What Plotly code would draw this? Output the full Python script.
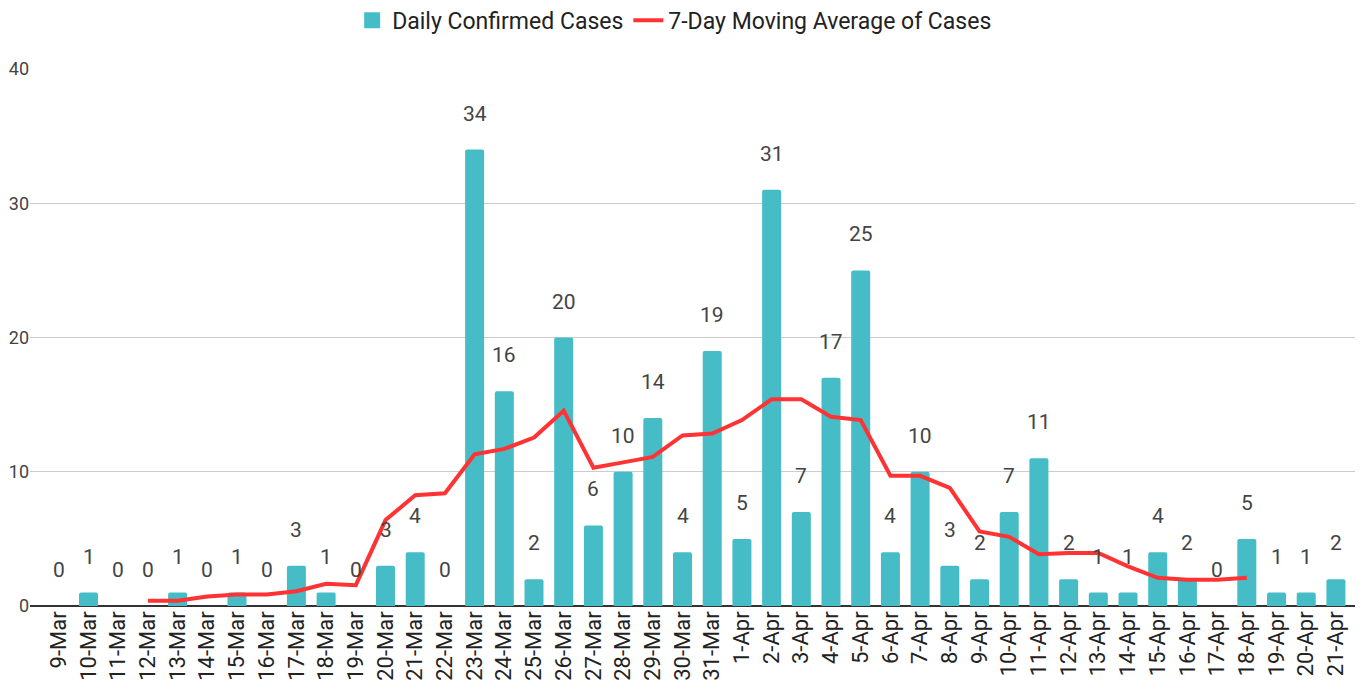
import plotly.graph_objects as go

dates = ["9-Mar", "10-Mar", "11-Mar", "12-Mar", "13-Mar", "14-Mar", "15-Mar", "16-Mar",
         "17-Mar", "18-Mar", "19-Mar", "20-Mar", "21-Mar", "22-Mar", "23-Mar", "24-Mar",
         "25-Mar", "26-Mar", "27-Mar", "28-Mar", "29-Mar", "30-Mar", "31-Mar", "1-Apr",
         "2-Apr", "3-Apr", "4-Apr", "5-Apr", "6-Apr", "7-Apr", "8-Apr", "9-Apr", "10-Apr",
         "11-Apr", "12-Apr", "13-Apr", "14-Apr", "15-Apr", "16-Apr", "17-Apr", "18-Apr",
         "19-Apr", "20-Apr", "21-Apr"]

daily_cases = [0, 1, 0, 0, 1, 0, 1, 0, 3, 1, 0, 3, 4, 0, 34, 16, 2, 20, 6, 10, 14, 4, 19, 5,
               31, 7, 17, 25, 4, 10, 3, 2, 7, 11, 2, 1, 1, 4, 2, 0, 5, 1, 1, 2]

ma_dates = dates[3:41]
ma_values = [0.4, 0.4, 0.7, 0.85, 0.85, 1.1, 1.65, 1.55, 6.4, 8.25, 8.4, 11.3, 11.7, 12.55,
             14.55, 10.3, 10.7, 11.1, 12.7, 12.85, 13.85, 15.4, 15.4, 14.1, 13.85, 9.7, 9.7,
             8.8, 5.55, 5.15, 3.85, 3.95, 3.95, 2.95, 2.1, 1.95, 1.95, 2.1]

y_ticks = [0, 10, 20, 30, 40]

BAR_COLOR = "#46bdc6"
LINE_COLOR = "#ff3333"
FONT = "Roboto, Arial, sans-serif"

fig = go.Figure()
fig.add_trace(go.Bar(
    x=dates, y=daily_cases, name="Daily Confirmed Cases", showlegend=False,
    marker=dict(color=BAR_COLOR, cornerradius=2, line=dict(width=0)),
))
# legend entry with a larger square swatch
fig.add_trace(go.Scatter(
    x=[None], y=[None], name="Daily Confirmed Cases", mode="markers",
    marker=dict(symbol="square", size=18, color=BAR_COLOR),
))
fig.add_trace(go.Scatter(
    x=ma_dates, y=ma_values, name="7-Day Moving Average of Cases",
    mode="lines", line=dict(color=LINE_COLOR, width=4),
))

annotations = [
    dict(x=d, y=v, text=str(v), showarrow=False, yshift=36, yanchor="middle",
         xref="x", yref="y", font=dict(family=FONT, size=21, color="#444444"))
    for d, v in zip(dates, daily_cases)
]

fig.update_layout(
    width=1355, height=686,
    margin=dict(l=22, r=6, t=61, b=88, autoexpand=False),
    paper_bgcolor="white", plot_bgcolor="white",
    font=dict(family=FONT, size=20, color="#222222"),
    bargap=0.36,
    showlegend=True,
    legend=dict(orientation="h", xref="container", yref="container",
                x=0.492, xanchor="center", y=0.982, yanchor="middle",
                font=dict(family=FONT, size=23, color="#222222"),
                itemwidth=30, tracegroupgap=0),
    annotations=annotations,
    xaxis=dict(type="category", range=[-0.97, 43.71], tickangle=-90,
               tickfont=dict(family=FONT, size=22, color="#222222"),
               showgrid=False, ticks="", showline=False, automargin=False),
    yaxis=dict(range=[0, 40], tickvals=y_ticks, showgrid=True, gridcolor="#cccccc",
               gridwidth=1, zeroline=True, zerolinecolor="#333333", zerolinewidth=1.5,
               tickfont=dict(family=FONT, size=18, color="#444444"), ticks="",
               showline=False, automargin=False),
)

fig.write_html("out.html")
